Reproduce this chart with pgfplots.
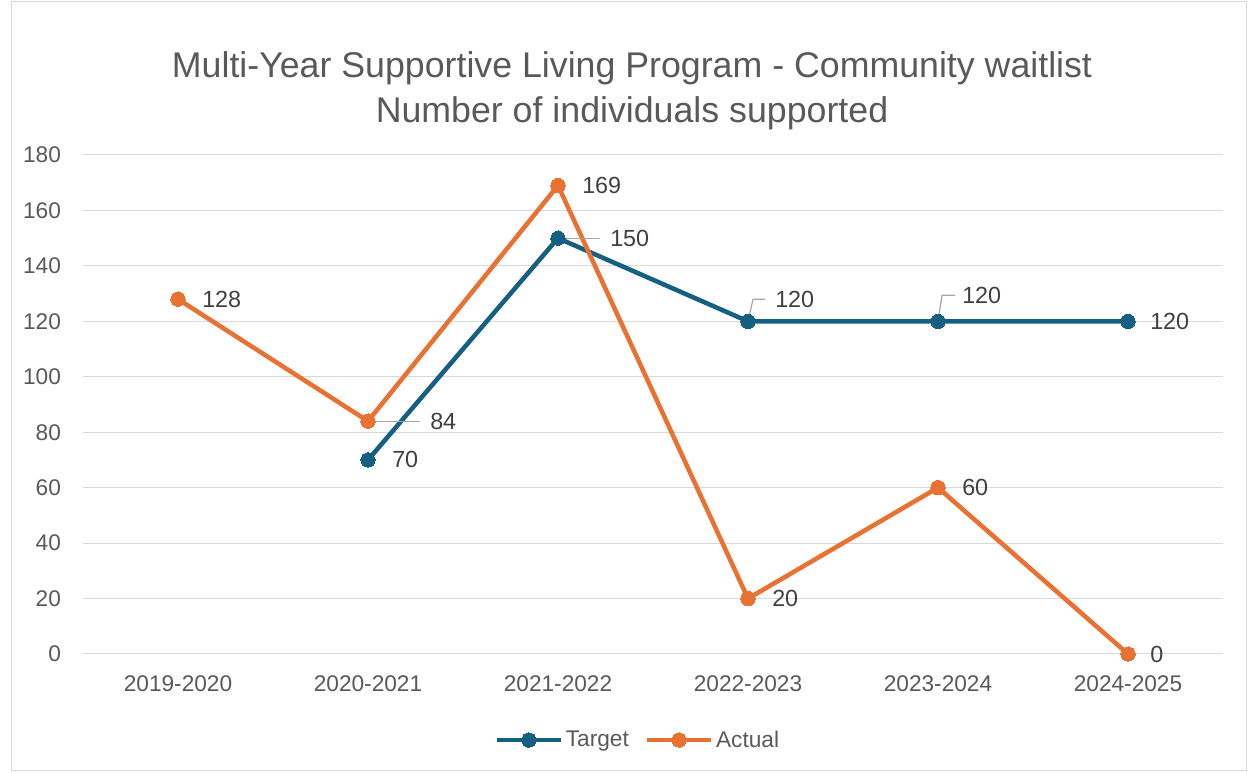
\documentclass[border=0pt]{standalone}
\usepackage{pgfplots}
\pgfplotsset{compat=1.18}
\usepackage{fontspec}
\setmainfont{Liberation Sans}
\definecolor{tblue}{HTML}{156082}
\definecolor{aorange}{HTML}{E97132}
\definecolor{gridc}{HTML}{D9D9D9}
\definecolor{tickc}{HTML}{595959}
\definecolor{labc}{HTML}{404040}
\definecolor{leadc}{HTML}{A6A6A6}
\begin{document}
\begin{tikzpicture}
\begin{axis}[
  name=ax,
  scale only axis, width=855pt, height=374.25pt,
  xmin=-0.5, xmax=5.5, ymin=0, ymax=180,
  xtick={0,1,2,3,4,5},
  xticklabels={2019-2020,2020-2021,2021-2022,2022-2023,2023-2024,2024-2025},
  ytick={0,20,...,180},
  ymajorgrids, grid style={gridc, line width=0.75pt},
  axis line style={draw=none},
  major tick length=0pt,
  tick label style={font=\fontsize{17}{20}\selectfont, text=tickc},
  yticklabel style={xshift=-13pt},
  xticklabel style={yshift=-13pt},
  /pgf/number format/assume math mode=true,
  clip=false,
  legend style={at={(0.487,0)}, anchor=center, yshift=-64.5pt, draw=none, fill=none,
    legend columns=2, font=\fontsize{17}{20}\selectfont, text=tickc,
    /tikz/every even column/.append style={column sep=10pt},
    nodes={inner xsep=2pt},
    legend cell align=left, inner sep=0pt},
  legend image code/.code={\draw[mark repeat=2,mark phase=2,#1] plot coordinates {(0pt,0pt) (24pt,0pt) (48pt,0pt)};},
]
\addplot[color=tblue, line width=3.4pt, mark=*, mark size=5.4pt, mark options={solid, line width=0pt, fill=tblue}] coordinates {
(1,70) (2,150) (3,120) (4,120) (5,120)};
\addlegendentry{Target}
\addplot[color=aorange, line width=3.4pt, mark=*, mark size=5.4pt, mark options={solid, line width=0pt, fill=aorange}] coordinates {
(0,128) (1,84) (2,169) (3,20) (4,60) (5,0)};
\addlegendentry{Actual}
% leader lines
\draw[leadc, line width=0.9pt] (axis cs:1,84) -- ++(39pt,0pt);
\draw[leadc, line width=0.9pt] (axis cs:2,150) -- ++(31.5pt,0pt);
\draw[leadc, line width=0.9pt] (axis cs:3,120) -- ++(3.75pt,16.5pt) -- ++(9pt,0pt);
\draw[leadc, line width=0.9pt] (axis cs:4,120) -- ++(3pt,19.5pt) -- ++(9.75pt,0pt);
% data labels
\begin{scope}[every node/.style={anchor=west, inner sep=0pt, text=labc, font=\fontsize{17.5}{20}\selectfont}]
\node[xshift=18pt] at (axis cs:0,128) {128};
\node[xshift=46.5pt] at (axis cs:1,84) {84};
\node[xshift=18pt] at (axis cs:1,70) {70};
\node[xshift=18pt] at (axis cs:2,169) {169};
\node[xshift=39pt] at (axis cs:2,150) {150};
\node[xshift=20.25pt, yshift=16.5pt] at (axis cs:3,120) {120};
\node[xshift=18pt, yshift=19.5pt] at (axis cs:4,120) {120};
\node[xshift=16.5pt] at (axis cs:5,120) {120};
\node[xshift=18pt] at (axis cs:3,20) {20};
\node[xshift=18pt] at (axis cs:4,60) {60};
\node[xshift=16.5pt] at (axis cs:5,0) {0};
\end{scope}
\end{axis}
\node[text=tickc, font=\fontsize{26.8}{33.75}\selectfont, align=center, inner sep=0pt]
  at ([shift={(411.75pt,422.5pt)}]ax.south west)
  {Multi-Year Supportive Living Program - Community waitlist\\Number of individuals supported};
\draw[gridc, line width=0.75pt] ([shift={(-53.25pt,-87.75pt)}]ax.south west) rectangle ([shift={(872.25pt,489pt)}]ax.south west);
\useasboundingbox ([shift={(-62.25pt,-89.25pt)}]ax.south west) rectangle ([shift={(873.75pt,490.5pt)}]ax.south west);
\end{tikzpicture}
\end{document}
